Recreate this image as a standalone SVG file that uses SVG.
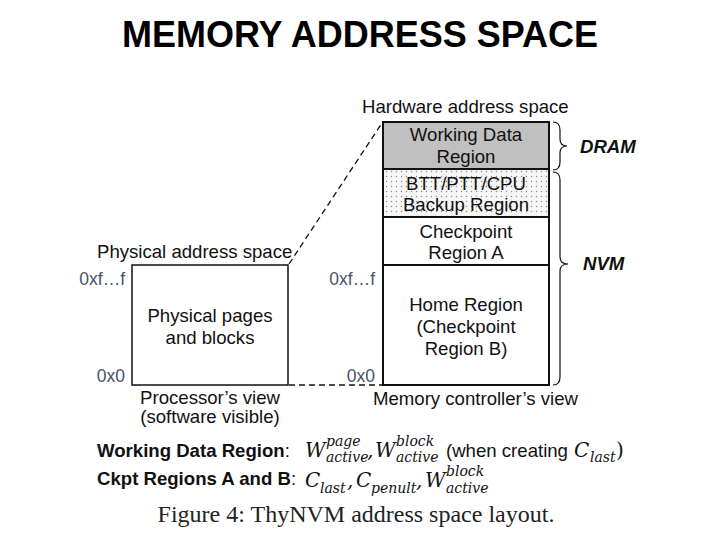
<svg xmlns="http://www.w3.org/2000/svg" width="720" height="540" viewBox="0 0 720 540">
<defs>
<pattern id="dots" width="5" height="5" patternUnits="userSpaceOnUse">
<rect width="5" height="5" fill="#f6f6f6"/>
<circle cx="1.5" cy="1.5" r="0.7" fill="#888"/>
</pattern>
</defs>
<style>
.t{font-family:"Liberation Sans",Arial,sans-serif;font-size:18.6px;fill:#111}
.c{text-anchor:middle}
.b{font-weight:bold}
.bi{font-weight:bold;font-style:italic}
.addr{font-family:"Liberation Sans",Arial,sans-serif;font-size:17.5px;fill:#44546a;text-anchor:end}
.m{font-family:"DejaVu Serif","Liberation Serif",serif;font-style:italic;fill:#111;font-size:20px}
.ms{font-size:14px}
.box{fill:#fff;stroke:#111;stroke-width:1.5}
.reg{stroke:#111;stroke-width:2}
.dash{fill:none;stroke:#111;stroke-width:1.3;stroke-dasharray:6 4}
.brace{fill:none;stroke:#111;stroke-width:1.2}
</style>
<rect width="720" height="540" fill="#fff"/>
<text x="360" y="47" text-anchor="middle" font-family="'Liberation Sans',Arial,sans-serif" font-size="36" font-weight="bold" fill="#000">MEMORY ADDRESS SPACE</text>

<g id="connectors">
<line class="dash" x1="289" y1="264" x2="382" y2="123"/>
<line class="dash" x1="289" y1="385" x2="383" y2="385"/>
</g>

<g id="processor-view">
<text class="t" x="97" y="258">Physical address space</text>
<rect class="box" x="132" y="265" width="156" height="120"/>
<text class="t c" x="210" y="322">Physical pages</text>
<text class="t c" x="210" y="344">and blocks</text>
<text class="addr" x="125" y="285">0xf…f</text>
<text class="addr" x="125" y="382">0x0</text>
<text class="t c" x="210" y="404">Processor’s view</text>
<text class="t c" x="210" y="423">(software visible)</text>
</g>

<g id="hardware-view">
<text class="t" x="362" y="113">Hardware address space</text>
<text class="addr" x="375" y="285">0xf…f</text>
<text class="addr" x="375" y="382">0x0</text>
<g id="working-data">
<rect x="383" y="122" width="166" height="47" fill="#c0c0c0"/>
<text class="t c" x="466" y="141">Working Data</text>
<text class="t c" x="466" y="163">Region</text>
</g>
<g id="btt-backup">
<rect x="383" y="169" width="166" height="48" fill="url(#dots)"/>
<text class="t c" x="466" y="190">BTT/PTT/CPU</text>
<text class="t c" x="466" y="211">Backup Region</text>
</g>
<g id="checkpoint-a">
<text class="t c" x="466" y="238">Checkpoint</text>
<text class="t c" x="466" y="259">Region A</text>
</g>
<g id="home-region">
<text class="t c" x="466" y="311">Home Region</text>
<text class="t c" x="466" y="333">(Checkpoint</text>
<text class="t c" x="466" y="355">Region B)</text>
</g>
<rect x="383" y="122" width="166" height="263" fill="none" class="reg"/>
<line class="reg" x1="383" y1="169" x2="549" y2="169"/>
<line class="reg" x1="383" y1="217" x2="549" y2="217"/>
<line class="reg" x1="383" y1="265" x2="549" y2="265"/>
<text class="t" x="373" y="405">Memory controller’s view</text>
</g>

<g id="dram-brace">
<path class="brace" d="M553,122 Q560,122 560,130 L560,139 Q560,146 567,146 Q560,146 560,153 L560,162 Q560,170 553,170"/>
<text class="t bi" x="580" y="153">DRAM</text>
</g>
<g id="nvm-brace">
<path class="brace" d="M553,172 Q560,172 560,180 L560,257 Q560,264 568,264 Q560,264 560,271 L560,377 Q560,385 553,385"/>
<text class="t bi" x="583" y="270">NVM</text>
</g>

<g id="legend">
<text class="t" x="97" y="457"><tspan class="b">Working Data Region</tspan>:</text>
<text class="m"><tspan x="305" y="457">W</tspan><tspan class="ms" x="326" y="446">page</tspan><tspan class="ms" x="326" y="462">active</tspan><tspan x="367" y="457">,</tspan></text>
<text class="m"><tspan x="375" y="457">W</tspan><tspan class="ms" x="396" y="446">block</tspan><tspan class="ms" x="396" y="462">active</tspan></text>
<text class="t" x="446" y="457">(when creating</text>
<text class="m"><tspan x="574" y="457">C</tspan><tspan class="ms" x="590" y="462">last</tspan><tspan x="616" y="457" font-style="normal">)</tspan></text>

<text class="t" x="97" y="485"><tspan class="b">Ckpt Regions A and B</tspan>:</text>
<text class="m"><tspan x="305" y="487">C</tspan><tspan class="ms" x="320" y="493">last</tspan><tspan x="347" y="487">,</tspan><tspan x="356" y="487">C</tspan><tspan class="ms" x="371" y="493">penult</tspan><tspan x="416" y="487">,</tspan></text>
<text class="m"><tspan x="425" y="487">W</tspan><tspan class="ms" x="446" y="476">block</tspan><tspan class="ms" x="446" y="493">active</tspan></text>
</g>

<text x="356" y="522" text-anchor="middle" font-family="'Liberation Serif','Times New Roman',serif" font-size="24" fill="#222">Figure 4: ThyNVM address space layout.</text>
</svg>
